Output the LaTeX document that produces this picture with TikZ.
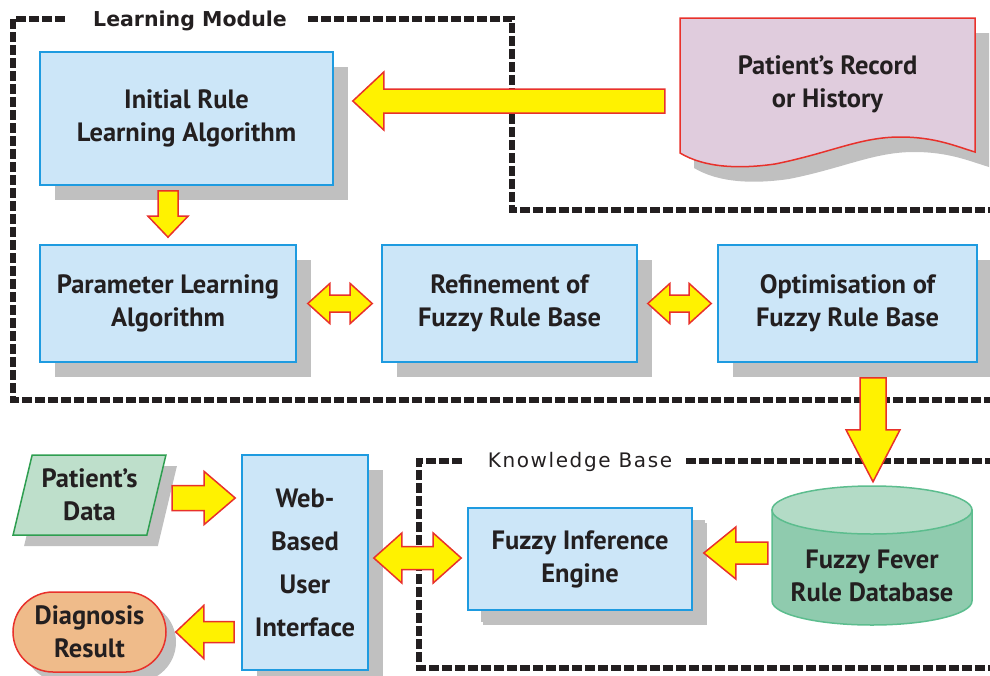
\documentclass[tikz,border=0pt]{standalone}
\usepackage{fontspec}
\setmainfont{PT Sans}
\newfontfamily\grpfont[LetterSpace=8]{DejaVu Sans}
\newfontfamily\grpboldfont{DejaVu Sans}
\usetikzlibrary{calc,shapes.geometric,shapes.misc,shadows}
\definecolor{boxfill}{HTML}{CCE6F8}
\definecolor{boxline}{HTML}{1E9BE0}
\definecolor{shadowgray}{HTML}{C0C0C0}
\definecolor{arryel}{HTML}{FFF200}
\definecolor{arrred}{HTML}{E8312B}
\definecolor{recfill}{HTML}{E0CCDD}
\definecolor{pdfill}{HTML}{BEDFCB}
\definecolor{pdline}{HTML}{2E9E50}
\definecolor{dgfill}{HTML}{EFBB8A}
\definecolor{dbbody}{HTML}{8FCBAE}
\definecolor{dbtopc}{HTML}{B3DBC6}
\definecolor{dbline}{HTML}{5CBD8E}
\definecolor{inkcol}{HTML}{231F20}
\tikzset{
 lbl/.style={font=\bfseries\fontsize{26.5}{33}\selectfont, align=center, text=inkcol},
 procbox/.style={lbl, draw=boxline, fill=boxfill, line width=1.6pt, inner sep=0pt,
   drop shadow={shadow xshift=15pt, shadow yshift=-15pt, fill=shadowgray, opacity=1}},
 blk/.style={draw=arrred, fill=arryel, line width=1.5pt, line join=miter},
 dashbox/.style={draw=inkcol, line width=6pt, dash pattern=on 10pt off 3pt},
 grouplbl/.style={font=\grpfont\fontsize{20}{20}\selectfont, text=inkcol, inner sep=0pt},
}
\newcommand\blockarrow[5]{%
  \coordinate (bah) at ($(#2)!#5pt!(#1)$);
  \draw[blk] ($(#1)!#3pt!90:(#2)$) -- ($(bah)!#3pt!90:(#2)$) -- ($(bah)!#4pt!90:(#2)$) -- (#2)
    -- ($(bah)!#4pt!-90:(#2)$) -- ($(bah)!#3pt!-90:(#2)$) -- ($(#1)!#3pt!-90:(#2)$) -- cycle;
}
\newcommand\dblarrow[5]{%
  \coordinate (dah) at ($(#1)!#5pt!(#2)$);
  \coordinate (dak) at ($(#2)!#5pt!(#1)$);
  \draw[blk] (#1) -- ($(dah)!#4pt!90:(#2)$) -- ($(dah)!#3pt!90:(#2)$) -- ($(dak)!#3pt!90:(#2)$)
    -- ($(dak)!#4pt!90:(#2)$) -- (#2) -- ($(dak)!#4pt!-90:(#2)$) -- ($(dak)!#3pt!-90:(#2)$)
    -- ($(dah)!#3pt!-90:(#2)$) -- ($(dah)!#4pt!-90:(#2)$) -- cycle;
}
\begin{document}
\begin{tikzpicture}[x=1pt,y=-1pt]
\useasboundingbox (0,0) rectangle (990,675);
% group frames
\draw[dashbox] (65,19) -| (13,400) -- (990,400);
\draw[dashbox] (308,19) -| (512,210) -- (990,210);
\node[grouplbl, font=\grpboldfont\bfseries\fontsize{20.5}{20}\selectfont] (lm) at (190,21) {Learning Module};
\draw[dashbox] (462,461) -| (419,668) -- (990,668);
\draw[dashbox] (686,461) -- (990,461);
\node[grouplbl] (kb) at (580,462) {Knowledge Base};
% patient record document
\begin{scope}[xshift=14pt,yshift=-15pt]
\fill[shadowgray] (680,18) -- (975,18) -- (975,152) .. controls (955,146) and (935,137) .. (900,137)
  .. controls (860,137) and (830,153) .. (775,164) .. controls (740,169) and (705,168) .. (680,153) -- cycle;
\end{scope}
\filldraw[fill=recfill, draw=arrred, line width=1.5pt] (680,18) -- (975,18) -- (975,152) .. controls (955,146) and (935,137) .. (900,137)
  .. controls (860,137) and (830,153) .. (775,164) .. controls (740,169) and (705,168) .. (680,153) -- cycle;
\node[lbl, minimum width=295pt, minimum height=132pt, inner sep=0pt] (rec) at (827.5,84) {Patient’s Record\\or History};
% database cylinder
\filldraw[fill=dbbody, draw=dbline, line width=1.5pt] (772,510) -- (772,601)
  arc[start angle=180, end angle=360, x radius=100pt, y radius=24pt] -- (972,510) -- cycle;
\filldraw[fill=dbtopc, draw=dbline, line width=1.5pt] (872,510) ellipse [x radius=100pt, y radius=24pt];
\node[lbl, minimum width=200pt, minimum height=178pt, inner sep=0pt] (db) at (872,576) {Fuzzy Fever\\Rule Database};
% process boxes
\node[procbox, minimum width=293pt, minimum height=133pt] (init) at (186.5,118.5) {Initial Rule\\Learning Algorithm};
\node[procbox, minimum width=256pt, minimum height=117pt] (param) at (168,303.5) {Parameter Learning\\Algorithm};
\node[procbox, minimum width=255pt, minimum height=117pt] (refine) at (509.5,303.5) {Refinement of\\Fuzzy Rule Base};
\node[procbox, minimum width=259pt, minimum height=117pt] (optim) at (847.5,303.5) {Optimisation of\\Fuzzy Rule Base};
\node[procbox, minimum width=126pt, minimum height=215pt, font=\bfseries\fontsize{26.5}{43}\selectfont] (web) at (305,562.5) {Web-\\Based\\User\\Interface};
\node[procbox, minimum width=224pt, minimum height=102pt,
  drop shadow={shadow xshift=13pt, shadow yshift=-12pt, fill=shadowgray, opacity=1}] (fie) at (580,559) {Fuzzy Inference\\Engine};
\node[lbl, trapezium, trapezium left angle=73, trapezium right angle=107, trapezium stretches=true,
  minimum width=153pt, minimum height=80pt, draw=pdline, fill=pdfill, line width=1.5pt, inner sep=0pt,
  drop shadow={shadow xshift=11pt, shadow yshift=-11pt, fill=shadowgray, opacity=1}] (pdata) at (89.5,495) {Patient’s\\Data};
\node[lbl, rounded rectangle, minimum width=153pt, minimum height=80pt, draw=arrred, fill=dgfill, line width=1.5pt, inner sep=0pt,
  drop shadow={shadow xshift=10pt, shadow yshift=-10pt, fill=shadowgray, opacity=1}] (diag) at (89.5,632) {Diagnosis\\Result};
% block arrows
\coordinate (a1s) at ($(rec.west)+(-15,17)$);
\coordinate (a1e) at ($(init.east)+(19,-17.5)$);
\blockarrow{a1s}{a1e}{12}{29}{31}
\coordinate (a2s) at ($(init.south)+(-18.5,5)$);
\coordinate (a2e) at ($(param.north)+(0,-7)$);
\blockarrow{a2s}{a2e}{10}{20}{21}
\coordinate (a3s) at ($(param.east)+(11,0)$);
\coordinate (a3e) at ($(refine.west)+(-9,0)$);
\dblarrow{a3s}{a3e}{8.5}{20}{22}
\coordinate (a4s) at ($(refine.east)+(10,0)$);
\coordinate (a4e) at ($(optim.west)+(-6,0)$);
\dblarrow{a4s}{a4e}{8.5}{20}{22}
\coordinate (a5s) at ($(optim.south)+(25.5,15)$);
\coordinate (a5e) at ($(db.north)+(1,-5)$);
\blockarrow{a5s}{a5e}{13}{27}{52}
\coordinate (a6s) at ($(web.west)+(-69,-64.5)$);
\coordinate (a6e) at ($(web.west)+(-6,-64.5)$);
\blockarrow{a6s}{a6e}{12.5}{26.5}{31}
\coordinate (a7s) at ($(web.west)+(-7,69.5)$);
\coordinate (a7e) at ($(diag.east)+(9,0)$);
\blockarrow{a7s}{a7e}{10.5}{26.5}{28}
\coordinate (a8s) at ($(web.east)+(5,-4.5)$);
\coordinate (a8e) at ($(fie.west)+(-6,-1)$);
\dblarrow{a8s}{a8e}{11.5}{25}{28}
\coordinate (a9s) at ($(db.west)+(-4,-23)$);
\coordinate (a9e) at ($(fie.east)+(11,-6)$);
\blockarrow{a9s}{a9e}{11}{26}{32}
\end{tikzpicture}
\end{document}
